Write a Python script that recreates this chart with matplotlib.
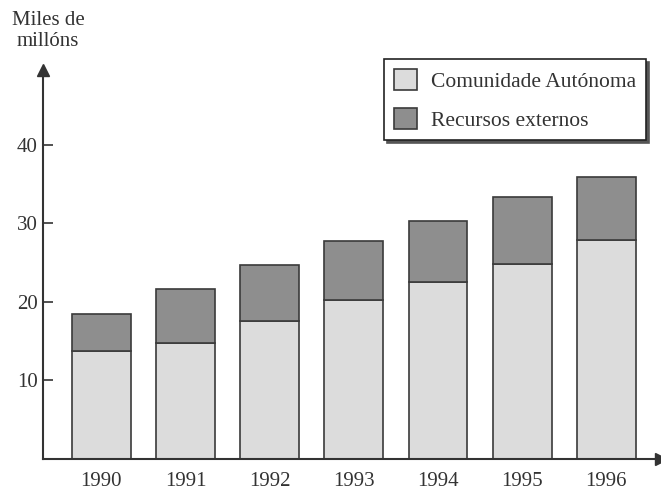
import matplotlib.pyplot as plt

years = ['1990', '1991', '1992', '1993', '1994', '1995', '1996']
comunidade = [13.8, 14.8, 17.5, 20.2, 22.5, 24.8, 27.9]
totals = [18.5, 21.6, 24.7, 27.8, 30.3, 33.3, 35.9]
externos = [t - c for t, c in zip(totals, comunidade)]

plt.rcParams['font.family'] = ['Liberation Serif', 'DejaVu Serif']

fig = plt.figure(figsize=(6.61, 4.93), dpi=100)
W, H = 661, 493
ax = fig.add_axes([43 / W, (H - 459) / H, (661 - 43) / W, (459 - 70) / H])

x = list(range(len(years)))
ax.bar(x, comunidade, width=0.7, color='#dcdcdc', edgecolor='#3a3a3a', linewidth=1.2,
       label='Comunidade Autónoma')
ax.bar(x, externos, bottom=comunidade, width=0.7, color='#8e8e8e', edgecolor='#3a3a3a',
       linewidth=1.2, label='Recursos externos')

ax.set_xlim(-0.694, 6.65)
ax.set_ylim(0, 49.5)
ax.set_xticks(x)
ax.set_xticklabels(years)
ax.set_yticks([10, 20, 30, 40])
ax.tick_params(axis='x', length=0, pad=9, labelsize=15, colors='#333333')
ax.tick_params(axis='y', direction='in', length=7, width=1.2, pad=4, labelsize=15,
               colors='#333333')

for s in ['top', 'right']:
    ax.spines[s].set_visible(False)
for s in ['left', 'bottom']:
    ax.spines[s].set_linewidth(1.5)
    ax.spines[s].set_color('#333333')

# axis arrows
ax.plot(0, 1, marker='^', markersize=9, color='#333333', transform=ax.transAxes, clip_on=False)
ax.plot(1, 0, marker='>', markersize=9, color='#333333', transform=ax.transAxes, clip_on=False)

fig.text(48 / W, 1 - 31 / H, 'Miles de\nmillóns', ha='center', va='center', fontsize=15,
         color='#333333', linespacing=1.15)

leg = ax.legend(loc='upper left', bbox_to_anchor=(384 / W, 1 - 59 / H),
                bbox_transform=fig.transFigure, fontsize=15.5, fancybox=False,
                shadow={'color': '#555555', 'alpha': 1},
                edgecolor='#222222', handlelength=1.1, handleheight=1.15,
                handletextpad=0.65, labelspacing=0.75, borderpad=0.45, borderaxespad=0)
leg.get_frame().set_linewidth(1.2)
for t in leg.get_texts():
    t.set_color('#333333')

fig.savefig('out.png', dpi=100)
